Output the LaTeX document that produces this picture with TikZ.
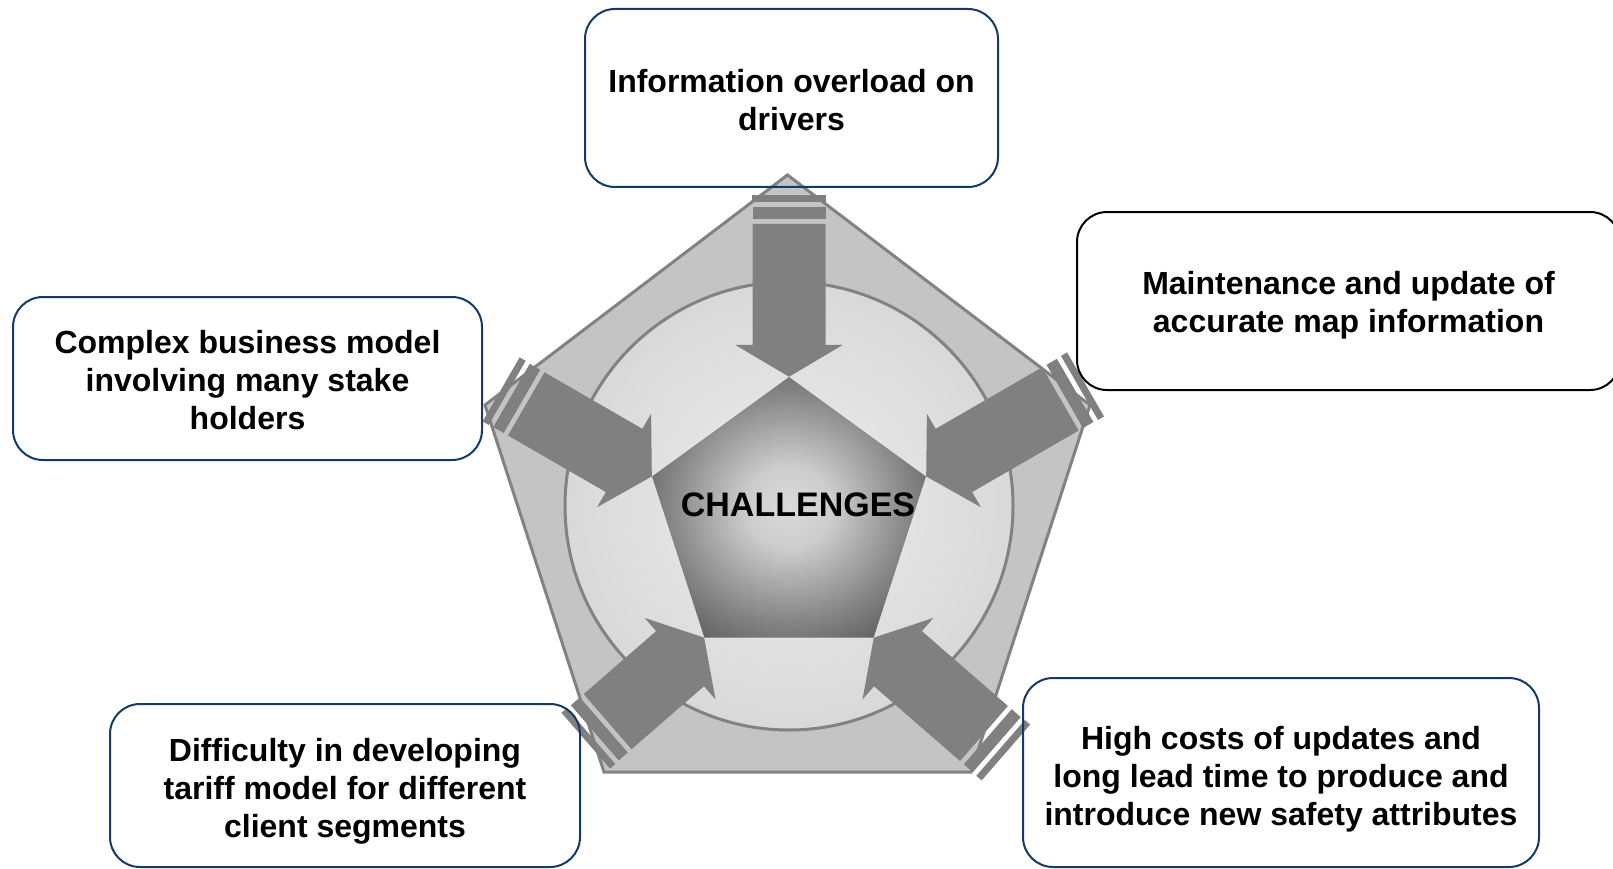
\documentclass[tikz,border=0pt]{standalone}
\usepackage{fontspec}
\setmainfont{Liberation Sans}
\usepackage{tikz}
\usetikzlibrary{shapes.geometric}

\definecolor{navy}{RGB}{22,58,102}
\definecolor{arrowgray}{RGB}{128,128,128}
\definecolor{framegray}{RGB}{130,130,130}

\pgfdeclareradialshading{hubglow}{\pgfpointorigin}{color(0bp)=(black!14); color(8bp)=(black!20); color(22bp)=(black!48); color(32bp)=(black!66); color(50bp)=(black!72)}

\begin{document}
\begin{tikzpicture}[x=1pt,y=-1pt,
    box/.style={draw=navy,line width=2pt,rounded corners=30pt,inner sep=0pt},
    boxtext/.style={align=center,inner sep=0pt,font=\bfseries\fontsize{32}{38}\selectfont},
    frame/.style={draw=framegray,line width=3pt,line join=miter},
    pics/inarrow/.style={code={
      \fill[arrowgray] (0,0) -- (-32,54) -- (-32,36.5) -- (-#1,36.5) -- (-#1,-36.5) -- (-32,-36.5) -- (-32,-54) -- cycle;
      \fill[arrowgray] (-#1-5,-36.5) rectangle (-#1-17,36.5);
      \fill[arrowgray] (-#1-22,-37) rectangle (-#1-29,37);
    }}]

  \useasboundingbox (0,0) rectangle (1613,869);

  % outer pentagon and ring
  \draw[frame, top color=black!23, middle color=black!4, bottom color=black!23]
    (787.5,175) -- (1090,405) -- (971,772) -- (604,772) -- (485,405) -- cycle;
  \node[circle, draw=framegray, line width=3pt, minimum size=448pt, inner sep=0pt,
        inner color=black!7, outer color=black!15] (ring) at (789,506) {};

  % hub
  \node[regular polygon, regular polygon sides=5, minimum size=288pt, inner sep=0pt,
        shade, shading=hubglow] (hub) at (789,521) {};
  \node[font=\bfseries\fontsize{34}{40}\selectfont] (hublabel) at (798,505) {CHALLENGES};

  % arrows into the hub
  \pic[rotate=270] at (hub.corner 1) {inarrow=153};
  \pic[rotate=330] at (hub.corner 2) {inarrow=145};
  \pic[rotate=41]  at (hub.corner 3) {inarrow=128};
  \pic[rotate=139] at (hub.corner 4) {inarrow=146};
  \pic[rotate=210] at (hub.corner 5) {inarrow=155};

  % boxes
  \node[box, minimum width=413pt, minimum height=178pt] (b1) at (791.5,98) {};
  \node[box, draw=black, minimum width=543pt, minimum height=178pt] (b2) at (1348.5,301) {};
  \node[box, minimum width=469pt, minimum height=163pt] (b3) at (247.5,378.5) {};
  \node[box, minimum width=470pt, minimum height=163pt] (b4) at (345,785.5) {};
  \node[box, minimum width=516pt, minimum height=189pt] (b5) at (1281,772.5) {};

  \node[boxtext] (t1) at ([yshift=-2pt]b1.center) {Information overload on\\drivers};
  \node[boxtext] (t2) at ([yshift=-4pt]b2.center) {Maintenance and update of\\accurate map information};
  \node[boxtext] (t3) at ([yshift=-2pt]b3.center) {Complex business model\\involving many stake\\holders};
  \node[boxtext] (t4) at ([yshift=-6pt]b4.center) {Difficulty in developing\\tariff model for different\\client segments};
  \node[boxtext] (t5) at ([yshift=-7pt]b5.center) {High costs of updates and\\long lead time to produce and\\introduce new safety attributes};
\end{tikzpicture}
\end{document}
